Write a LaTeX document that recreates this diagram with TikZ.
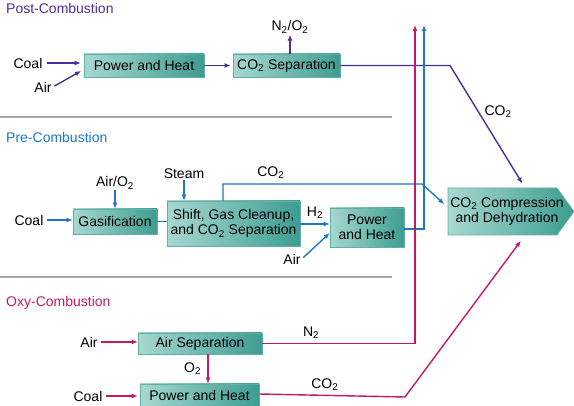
\documentclass[tikz,border=0pt]{standalone}
\usepackage{fontspec}
\setmainfont{Liberation Sans}
\usetikzlibrary{arrows.meta,positioning}
\definecolor{postc}{HTML}{4B2E98}
\definecolor{prec}{HTML}{1C77C8}
\definecolor{oxyc}{HTML}{C2196B}
\definecolor{boxl}{HTML}{A6D8D1}
\definecolor{boxr}{HTML}{3D9D90}
\definecolor{boxline}{HTML}{62B0A5}
\newcommand{\subtwo}{\textsubscript{2}}

\begin{document}
\begin{tikzpicture}[x=1pt, y=-1pt, >={Latex[length=6pt,width=5pt]},
  font=\fontsize{14}{15.5}\selectfont,
  proc/.style={draw=boxline, line width=0.6pt, left color=boxl, right color=boxr,
               inner sep=0pt, align=center},
  lbl/.style={inner sep=1pt},
  title/.style={anchor=west, inner sep=0pt, font=\fontsize{14}{16}\selectfont},
  flow/.style={line width=1.4pt},
  sep/.style={draw=gray!70, line width=1.2pt}]
\useasboundingbox (0,0) rectangle (574,406);
% section titles and separators
\node[title, text=postc] (tpost) at (6,8) {Post-Combustion};
\node[title, text=prec] (tpre) at (6,137) {Pre-Combustion};
\node[title, text=oxyc] (toxy) at (6,303) {Oxy-Combustion};
\draw[sep] (0,117) -- (392,117);
\draw[sep] (0,277) -- (392,277);
% process boxes
\node[proc, minimum width=120pt, minimum height=23pt] (postPH) at (144,65.5) {Power and Heat};
\node[proc, minimum width=107pt, minimum height=23pt] (postSep) at (286.5,65.5) {CO\subtwo{} Separation};
\node[proc, minimum width=84pt, minimum height=25pt] (gas) at (115,221.5) {Gasification};
\node[proc, minimum width=133pt, minimum height=45pt] (shift) at (233.5,223.5)
  {Shift, Gas Cleanup,\\and CO\subtwo{} Separation};
\node[proc, minimum width=74pt, minimum height=39pt] (prePH) at (367,227.5) {Power\\and Heat};
% arrow-shaped compression box
\path[proc] (448,188) -- (557,188) -- (574,211.5) -- (557,235) -- (448,235) -- cycle;
\node[align=center, inner sep=0pt, minimum width=118pt, minimum height=47pt] (comp) at (507,211.5)
  {CO\subtwo{} Compression\\and Dehydration};
\node[proc, minimum width=124pt, minimum height=21pt] (asu) at (200,343.5) {Air Separation};
\node[proc, minimum width=119pt, minimum height=23pt] (oxyPH) at (199.5,395.5) {Power and Heat};
% post-combustion flows
\node[lbl] (coalA) at (28,63) {Coal};
\node[lbl] (airA) at (43,87) {Air};
\node[lbl] (nox) at (290,27) {N\subtwo/O\subtwo};
\coordinate (pbend) at (450,65.5);
\begin{scope}[draw=postc, flow]
\draw[->, shorten <=3pt, shorten >=3pt] (coalA.east) -- (coalA.east -| postPH.west);
\draw[->, shorten <=2pt, shorten >=3pt] (airA.east) -- ([yshift=-4pt]postPH.west);
\draw[->, shorten >=2pt] (postPH.east) -- (postSep.west);
\draw[->] ([xshift=3.5pt]postSep.north) -- ([xshift=3.5pt, yshift=19pt]postSep.north);
\draw[->, shorten >=5pt] (postSep.east) -- (pbend) -- ([xshift=18pt]comp.north)
  node[pos=0.38, right=2pt, text=black] {CO\subtwo};
\end{scope}
% pre-combustion flows
\node[lbl] (coalB) at (29,220) {Coal};
\node[lbl] (airo) at (115,183) {Air/O\subtwo};
\node[lbl] (steam) at (184,174) {Steam};
\node[lbl] (airB) at (292,259) {Air};
\coordinate (cobend) at (422,184);
\coordinate (bluetop) at (424,25);
\begin{scope}[draw=prec, flow]
\draw[->, shorten <=2pt] (coalB.east) -- (coalB.east -| gas.west);
\draw[->] (airo.south) -- (airo.south |- gas.north);
\draw (gas.east) -- (gas.east -| shift.west);
\draw[->] (steam.south) -- (steam.south |- shift.north);
\draw[->, shorten >=2pt] ([xshift=-10.5pt]shift.north) |- (cobend)
  node[pos=0.62, above=1pt, text=black] {CO\subtwo} -- ([xshift=-2pt, yshift=6pt]comp.west);
\draw[->] ([yshift=-0.5pt]shift.east) -- ([yshift=-0.5pt]shift.east -| prePH.west)
  node[midway, above=1pt, text=black] {H\subtwo};
\draw[->, shorten <=2pt] (airB.east) -- ([yshift=-5.5pt]prePH.west);
\draw[->] ([yshift=-1.5pt]prePH.east) -| (bluetop);
\end{scope}
% oxy-combustion flows
\node[lbl] (airC) at (89,342) {Air};
\node[lbl] (coalC) at (88,396) {Coal};
\coordinate (magtop) at (415,25);
\coordinate (cbend) at (405,397);
\begin{scope}[draw=oxyc, flow]
\draw[->, shorten <=2pt] (airC.east) -- (airC.east -| asu.west);
\draw[->] ([xshift=8pt]asu.south) -- ([xshift=8pt]asu.south |- oxyPH.north)
  node[midway, left=3pt, text=black] {O\subtwo};
\draw[->, shorten <=2pt, shorten >=2pt] (coalC.east) -- (coalC.east -| oxyPH.west);
\draw[->] (asu.east) -| (magtop) node[pos=0.16, above=1pt, text=black] {N\subtwo};
\draw[->, shorten >=7pt] ([yshift=1.5pt]oxyPH.east) -- (cbend)
  node[pos=0.45, above=1pt, text=black] {CO\subtwo} -- ([xshift=18pt]comp.south);
\end{scope}
\end{tikzpicture}
\end{document}
